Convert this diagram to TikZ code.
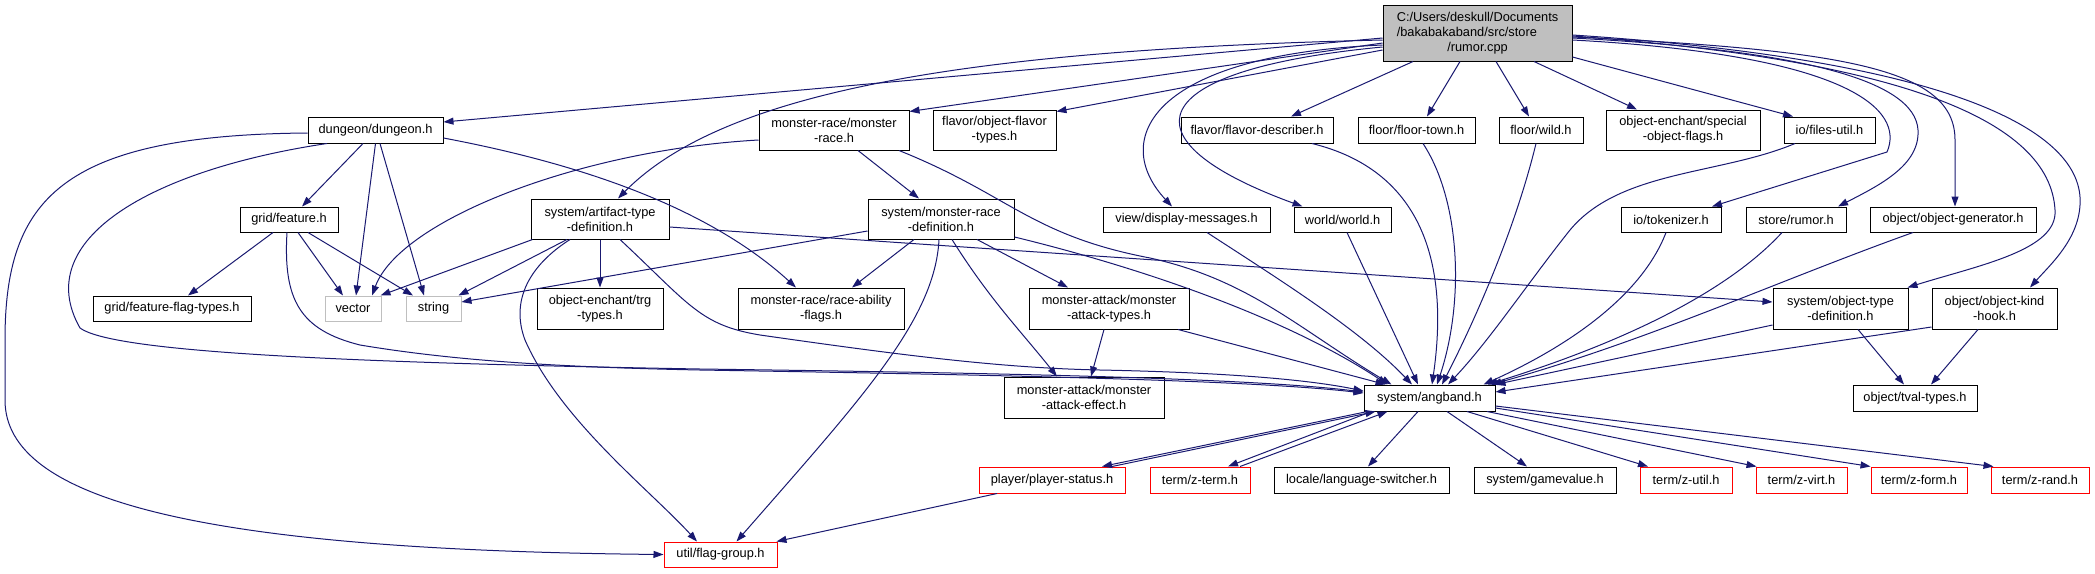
\documentclass[tikz,border=0pt]{standalone}
\usepackage{fontspec}
\setmainfont{Liberation Sans}
\usetikzlibrary{arrows.meta}
\definecolor{edgec}{HTML}{191970}
\definecolor{rootfill}{HTML}{BFBFBF}
\definecolor{greyb}{HTML}{BFBFBF}
\newcommand\nodefont{\fontsize{12.8}{15}\selectfont}
\begin{document}
\begin{tikzpicture}[x=1pt,y=-1pt,
 nd/.style={draw=black,line width=1pt,fill=white,inner sep=0pt,align=center,font=\nodefont},
 gnd/.style={nd,draw=greyb},
 rnd/.style={nd,draw=red},
 edg/.style={draw=edgec,line width=1pt,-{Triangle[length=10pt,width=7pt]}}]
\useasboundingbox (0,0) rectangle (2095,573);
% nodes
\node[nd,fill=rootfill,minimum width=189pt,minimum height=56pt] (root) at (1477.5,33) {\begin{tabular}{@{}l@{}}C:/Users/deskull/Documents\\/bakabakaband/src/store\\\multicolumn{1}{@{}c@{}}{/rumor.cpp}\end{tabular}};
\node[nd,minimum width=135pt,minimum height=26pt] (dungeon) at (375.5,130) {dungeon/dungeon.h};
\node[nd,minimum width=98pt,minimum height=25pt] (feature) at (289,219.5) {grid/feature.h};
\node[nd,minimum width=138pt,minimum height=40pt] (artifact) at (600,219) {system/artifact-type\\-definition.h};
\node[nd,minimum width=150pt,minimum height=40pt] (mrace) at (834,130) {monster-race/monster\\-race.h};
\node[nd,minimum width=123pt,minimum height=40pt] (oflavor) at (994.5,130) {flavor/object-flavor\\-types.h};
\node[nd,minimum width=152pt,minimum height=26pt] (fdesc) at (1257,130) {flavor/flavor-describer.h};
\node[nd,minimum width=117pt,minimum height=26pt] (ftown) at (1416.5,130) {floor/floor-town.h};
\node[nd,minimum width=84pt,minimum height=26pt] (wild) at (1541,130) {floor/wild.h};
\node[nd,minimum width=154pt,minimum height=40pt] (special) at (1683,130) {object-enchant/special\\-object-flags.h};
\node[nd,minimum width=91pt,minimum height=26pt] (files) at (1829.5,130) {io/files-util.h};
\node[nd,minimum width=146pt,minimum height=40pt] (mrdef) at (941,219) {system/monster-race\\-definition.h};
\node[nd,minimum width=167pt,minimum height=25pt] (dmsg) at (1186.5,219.5) {view/display-messages.h};
\node[nd,minimum width=97pt,minimum height=25pt] (world) at (1342.5,219.5) {world/world.h};
\node[nd,minimum width=100pt,minimum height=25pt] (tok) at (1671,219.5) {io/tokenizer.h};
\node[nd,minimum width=100pt,minimum height=25pt] (srumor) at (1796,219.5) {store/rumor.h};
\node[nd,minimum width=166pt,minimum height=25pt] (ogen) at (1953,219.5) {object/object-generator.h};
\node[nd,minimum width=158pt,minimum height=25pt] (fflag) at (172,308.5) {grid/feature-flag-types.h};
\node[gnd,minimum width=56pt,minimum height=25pt] (vector) at (353,308.5) {vector};
\node[gnd,minimum width=55pt,minimum height=25pt] (string) at (433.5,308.5) {string};
\node[nd,minimum width=126pt,minimum height=41pt] (trg) at (600,308.5) {object-enchant/trg\\-types.h};
\node[nd,minimum width=166pt,minimum height=41pt] (rabil) at (821,308.5) {monster-race/race-ability\\-flags.h};
\node[nd,minimum width=160pt,minimum height=41pt] (mat) at (1109,308.5) {monster-attack/monster\\-attack-types.h};
\node[nd,minimum width=135pt,minimum height=41pt] (otdef) at (1840.5,308.5) {system/object-type\\-definition.h};
\node[nd,minimum width=125pt,minimum height=41pt] (okh) at (1994.5,308.5) {object/object-kind\\-hook.h};
\node[nd,minimum width=160pt,minimum height=41pt] (mae) at (1084,397.5) {monster-attack/monster\\-attack-effect.h};
\node[nd,minimum width=131pt,minimum height=26pt] (angband) at (1429.5,398) {system/angband.h};
\node[nd,minimum width=124pt,minimum height=26pt] (tval) at (1915,398) {object/tval-types.h};
\node[rnd,minimum width=146pt,minimum height=26pt] (pstat) at (1052,480) {player/player-status.h};
\node[rnd,minimum width=100pt,minimum height=26pt] (zterm) at (1200,480) {term/z-term.h};
\node[nd,minimum width=175pt,minimum height=26pt] (lang) at (1361.5,480) {locale/language-switcher.h};
\node[nd,minimum width=142pt,minimum height=26pt] (gval) at (1545,480) {system/gamevalue.h};
\node[rnd,minimum width=92pt,minimum height=26pt] (zutil) at (1686,480) {term/z-util.h};
\node[rnd,minimum width=91pt,minimum height=26pt] (zvirt) at (1801.5,480) {term/z-virt.h};
\node[rnd,minimum width=96pt,minimum height=26pt] (zform) at (1919,480) {term/z-form.h};
\node[rnd,minimum width=98pt,minimum height=26pt] (zrand) at (2040,480) {term/z-rand.h};
\node[rnd,minimum width=113pt,minimum height=25pt] (fgroup) at (720.5,554.5) {util/flag-group.h};
% root edges
\draw[edg] ([yshift=-5pt]root.west) -- ([yshift=8pt]dungeon.east);
\draw[edg] ([yshift=-10pt]root.west) -- ([yshift=-2pt]mrace.north east);
\draw[edg] ([yshift=-17pt]root.west) -- ([yshift=-2pt]oflavor.north east);
\draw[edg] ([yshift=-7pt]root.west) .. controls (950,50) and (720,95) .. ([xshift=18pt]artifact.north);
\draw[edg] ([yshift=-12pt]root.west) .. controls (1150,55) and (1110,140) .. ([xshift=-14.5pt]dmsg.north);
\draw[edg] ([yshift=-14pt]root.west) .. controls (1140,70) and (1120,140) .. ([xshift=-40pt]world.north);
\draw[edg] ([xshift=-64.5pt]root.south) -- ([xshift=34pt]fdesc.north);
\draw[edg] ([xshift=-17.5pt]root.south) -- ([xshift=10.5pt]ftown.north);
\draw[edg] ([xshift=18.5pt]root.south) -- ([xshift=-12pt]wild.north);
\draw[edg] ([xshift=56.5pt]root.south) -- ([xshift=-46pt]special.north);
\draw[edg] ([yshift=-24pt]root.east) -- ([xshift=-36.5pt]files.north);
\draw[edg] ([yshift=-7pt]root.east) .. controls (1850,55) and (1905,110) .. (1887,152) -- ([xshift=41pt]tok.north);
\draw[edg] ([yshift=-5pt]root.east) .. controls (1800,50) and (1915,80) .. (1918,130) .. controls (1920,165) and (1880,185) .. ([xshift=42pt]srumor.north);
\draw[edg] ([yshift=-4pt]root.east) .. controls (1850,50) and (1955,70) .. (1955,140) -- ([xshift=2pt]ogen.north);
\draw[edg] ([yshift=-3pt]root.east) .. controls (1900,60) and (2050,120) .. (2055,210) .. controls (2058,250) and (1980,265) .. ([xshift=-1pt]otdef.north east);
\draw[edg] ([yshift=-2pt]root.east) .. controls (1950,60) and (2085,130) .. (2080,205) .. controls (2078,240) and (2050,265) .. ([xshift=35.5pt]okh.north);
% dungeon
\draw[edg] ([xshift=-12.5pt]dungeon.south) -- ([xshift=13pt]feature.north);
\draw[edg] (dungeon.south) -- ([xshift=3pt]vector.north);
\draw[edg] ([xshift=4.5pt]dungeon.south) -- ([xshift=-9.5pt]string.north);
\draw[edg] ([xshift=-48.5pt]dungeon.south) .. controls (150,170) and (30,240) .. (80,328) .. controls (110,350) and (300,362) .. (700,369) .. controls (1000,373) and (1250,378) .. ([yshift=6pt]angband.west);
\draw[edg] ([yshift=-3pt]dungeon.west) .. controls (60,135) and (5,200) .. (5,340) -- (5,400) .. controls (5,500) and (200,550) .. (fgroup.west);
\draw[edg] ([yshift=-8pt]dungeon.east) .. controls (560,160) and (700,200) .. ([xshift=-25pt]rabil.north);
% feature
\draw[edg] ([xshift=-16pt]feature.south) -- ([xshift=16pt]fflag.north);
\draw[edg] ([xshift=9pt]feature.south) -- ([xshift=-10pt]vector.north);
\draw[edg] ([xshift=19pt]feature.south) -- ([xshift=-20.5pt]string.north);
\draw[edg] ([xshift=-2pt]feature.south) .. controls (283,300) and (300,330) .. (360,345) .. controls (450,360) and (550,367) .. (700,370) .. controls (1000,375) and (1250,380) .. ([yshift=5pt]angband.west);
% artifact
\draw[edg] ([xshift=2pt]artifact.south west) -- ([xshift=-1pt]vector.north east);
\draw[edg] ([xshift=-33pt]artifact.south) -- ([xshift=-3pt]string.north east);
\draw[edg] (artifact) -- (trg);
\draw[edg] ([xshift=20pt]artifact.south) .. controls (690,305) and (700,325) .. (760,335) .. controls (900,355) and (1000,368) .. (1100,370) .. controls (1250,373) and (1320,382) .. ([yshift=7pt]angband.west);
\draw[edg] ([xshift=-30pt]artifact.south) .. controls (530,265) and (510,300) .. (525,340) .. controls (560,420) and (650,490) .. ([xshift=-23.5pt]fgroup.north);
\draw[edg] ([yshift=-8pt]artifact.east) -- ([yshift=6.5pt]otdef.west);
% monster-race
\draw[edg] ([yshift=-10pt]mrace.west) .. controls (580,150) and (400,220) .. ([xshift=19pt]vector.north);
\draw[edg] ([xshift=24pt]mrace.south) -- ([xshift=-22pt]mrdef.north);
\draw[edg] ([xshift=65pt]mrace.south) .. controls (1010,195) and (1030,235) .. (1150,258) .. controls (1250,280) and (1300,330) .. ([xshift=28pt]angband.north west);
% monster-race definition
\draw[edg] ([yshift=-12pt]mrdef.west) -- ([yshift=6.5pt]string.east);
\draw[edg] ([xshift=-27pt]mrdef.south) -- ([xshift=31pt]rabil.north);
\draw[edg] ([xshift=-2pt]mrdef.south) .. controls (935,320) and (860,400) .. ([xshift=16pt]fgroup.north);
\draw[edg] ([xshift=11pt]mrdef.south) .. controls (990,300) and (1020,330) .. ([xshift=-27pt]mae.north);
\draw[edg] ([xshift=36pt]mrdef.south) -- ([xshift=-41pt]mat.north);
\draw[edg] ([yshift=-18pt]mrdef.east) .. controls (1150,270) and (1290,320) .. ([xshift=24pt]angband.north west);
% monster-attack-types
\draw[edg] ([xshift=-5pt]mat.south) -- ([xshift=7pt]mae.north);
\draw[edg] ([xshift=69pt]mat.south) -- ([xshift=22pt]angband.north west);
% into angband from above
\draw[edg] ([xshift=55pt]fdesc.south) .. controls (1420,170) and (1450,260) .. ([xshift=2.5pt]angband.north);
\draw[edg] ([xshift=20.5pt]dmsg.south) .. controls (1280,280) and (1360,330) .. ([xshift=-17.5pt]angband.north);
\draw[edg] ([xshift=4.5pt]world.south) -- ([xshift=-11.5pt]angband.north);
\draw[edg] ([xshift=6.5pt]ftown.south) .. controls (1460,200) and (1465,300) .. ([xshift=7.5pt]angband.north);
\draw[edg] ([xshift=-5pt]wild.south) .. controls (1515,230) and (1475,320) .. ([xshift=12.5pt]angband.north);
\draw[edg] ([xshift=-34.5pt]files.south) .. controls (1720,175) and (1620,170) .. (1570,230) .. controls (1530,280) and (1490,340) .. ([xshift=18.5pt]angband.north);
\draw[edg] ([xshift=-5pt]tok.south) .. controls (1640,300) and (1560,350) .. ([xshift=-12pt]angband.north east);
\draw[edg] ([xshift=-14pt]srumor.south) .. controls (1720,300) and (1600,350) .. ([xshift=-8pt]angband.north east);
\draw[edg] ([xshift=-40pt]ogen.south) .. controls (1780,280) and (1650,340) .. ([xshift=-4pt]angband.north east);
\draw[edg] ([yshift=-16.5pt]otdef.west) -- (angband.north east);
\draw[edg] ([yshift=-18.5pt]okh.west) -- ([yshift=6pt]angband.east);
\draw[edg] ([xshift=17.5pt]otdef.south) -- ([xshift=-11pt]tval.north);
\draw[edg] ([xshift=-16.5pt]okh.south) -- ([xshift=16pt]tval.north);
% from angband
\draw[edg] ([xshift=4pt]angband.south west) -- ([xshift=50pt]pstat.north);
\draw[edg] ([xshift=60pt]pstat.north) -- ([xshift=12pt]angband.south west);
\draw[edg] ([xshift=8pt]angband.south west) -- ([xshift=28pt]zterm.north);
\draw[edg] ([xshift=40pt]zterm.north) -- ([xshift=24pt]angband.south west);
\draw[edg] ([xshift=-11.5pt]angband.south) -- ([xshift=6.5pt]lang.north);
\draw[edg] ([xshift=17.5pt]angband.south) -- ([xshift=-18pt]gval.north);
\draw[edg] ([xshift=37.5pt]angband.south) -- ([xshift=-38pt]zutil.north);
\draw[edg] ([xshift=57.5pt]angband.south) -- ([xshift=1pt]zvirt.north west);
\draw[edg] ([yshift=-10pt]angband.east) -- (zform.north west);
\draw[edg] ([yshift=-8pt]angband.east) -- ([xshift=3pt]zrand.north west);
\draw[edg] ([xshift=-55pt]pstat.south) -- ([xshift=-1pt]fgroup.north east);
\end{tikzpicture}
\end{document}
